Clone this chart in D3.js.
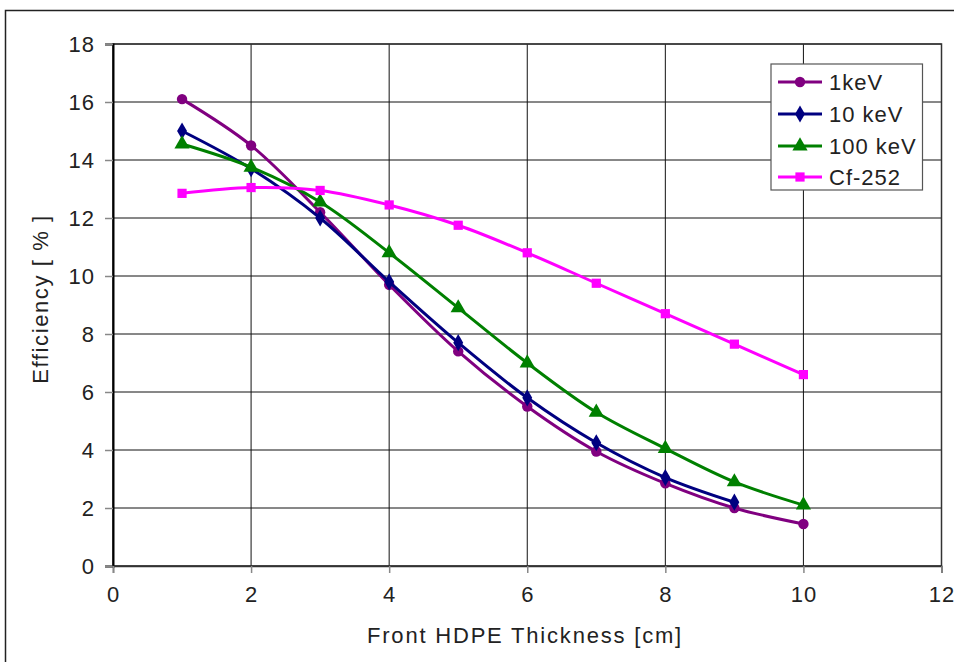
<!DOCTYPE html>
<html><head><meta charset="utf-8">
<script src="https://cdn.jsdelivr.net/npm/d3@7"></script>
<style>body{margin:0;background:#fff;} text{font-family:"Liberation Sans",Arial,sans-serif;fill:#222;}</style>
</head><body><svg id="c" width="954" height="662"></svg>
<script>
const xValues = [1,2,3,4,5,6,7,8,9,10];
const seriesNames = ["1keV","10 keV","100 keV","Cf-252"];
const s1keV   = [16.1,14.5,12.2,9.7,7.4,5.5,3.95,2.85,2.0,1.45];
const s10keV  = [15.0,13.7,12.0,9.8,7.7,5.8,4.25,3.05,2.2];
const s100keV = [14.55,13.75,12.55,10.8,8.9,7.0,5.3,4.05,2.9,2.1];
const sCf252  = [12.85,13.05,12.95,12.45,11.75,10.8,9.75,8.7,7.65,6.6];
const xTicks = [0,2,4,6,8,10,12];
const yTicks = [0,2,4,6,8,10,12,14,16,18];
const colors = ["#800080","#000080","#008000","#FF00FF"];
const symbols = [d3.symbolCircle,d3.symbolDiamond,d3.symbolTriangle,d3.symbolSquare];
const allSeries = [s1keV,s10keV,s100keV,sCf252];

const svg = d3.select("#c");
const L=113,R=941.5,T=44,B=566;
const x = d3.scaleLinear().domain([0,12]).range([L,R]);
const y = d3.scaleLinear().domain([0,18]).range([B,T]);

// outer frame
svg.append("path").attr("d","M5.5,662 V10.5 H954").attr("fill","none").attr("stroke","#222").attr("stroke-width",1.5);

// grid
const g = svg.append("g");
g.selectAll(".hg").data(yTicks).join("line").attr("x1",L).attr("x2",R).attr("y1",d=>y(d)).attr("y2",d=>y(d)).attr("stroke","#111").attr("stroke-width",1);
g.selectAll(".vg").data(xTicks).join("line").attr("y1",T).attr("y2",B).attr("x1",d=>x(d)).attr("x2",d=>x(d)).attr("stroke","#111").attr("stroke-width",1);
// plot border
svg.append("rect").attr("x",L).attr("y",T).attr("width",R-L).attr("height",B-T).attr("fill","none").attr("stroke","#333").attr("stroke-width",1.5);

// axes
const ya = svg.append("g").attr("transform",`translate(${L},0)`).call(d3.axisLeft(y).tickValues(yTicks).tickSize(8).tickPadding(10));
const xa = svg.append("g").attr("transform",`translate(0,${B})`).call(d3.axisBottom(x).tickValues(xTicks).tickSize(7).tickPadding(13));
[ya,xa].forEach(a=>{a.select(".domain").attr("stroke","#000").attr("stroke-width",2);
  a.selectAll(".tick line").attr("stroke","#888").attr("stroke-width",1.5);
  a.selectAll(".tick text").style("font-size","22px").style("letter-spacing","1px").attr("fill","#222").style("font-family","'Liberation Sans',Arial,sans-serif");});
xa.select(".domain").attr("stroke","#333").attr("stroke-width",1.5);

// axis titles
svg.append("text").attr("x",525).attr("y",643).attr("text-anchor","middle").style("font-size","22px").style("letter-spacing","1.8px").text("Front HDPE Thickness [cm]");
svg.append("text").attr("transform","translate(48,299) rotate(-90)").attr("text-anchor","middle").style("font-size","22px").style("letter-spacing","1.6px").text("Efficiency [ % ]");

// series
const line = d3.line().x((d,i)=>x(xValues[i])).y(d=>y(d)).curve(d3.curveCatmullRom.alpha(0.5));
allSeries.forEach((s,k)=>{
  svg.append("path").attr("d",line(s)).attr("fill","none").attr("stroke",colors[k]).attr("stroke-width",3);
  svg.selectAll(null).data(s).join("path")
    .attr("transform",(d,i)=>`translate(${x(xValues[i])},${y(d)})`)
    .attr("d",d3.symbol().type(symbols[k]).size(k==2?100:85)).attr("fill",colors[k]);
});

// legend
const lg = svg.append("g");
lg.append("rect").attr("x",771).attr("y",64).attr("width",151.5).attr("height",126).attr("fill","#fff").attr("stroke","#555").attr("stroke-width",1.2);
seriesNames.forEach((n,k)=>{
  const yy = [82,114,146,177][k];
  lg.append("line").attr("x1",778).attr("x2",822).attr("y1",yy).attr("y2",yy).attr("stroke",colors[k]).attr("stroke-width",3);
  lg.append("path").attr("transform",`translate(800,${yy})`).attr("d",d3.symbol().type(symbols[k]).size(k==2?100:85)).attr("fill",colors[k]);
  lg.append("text").attr("x",829).attr("y",yy+8).style("font-size","22px").style("letter-spacing","1px").text(n);
});
</script></body></html>
